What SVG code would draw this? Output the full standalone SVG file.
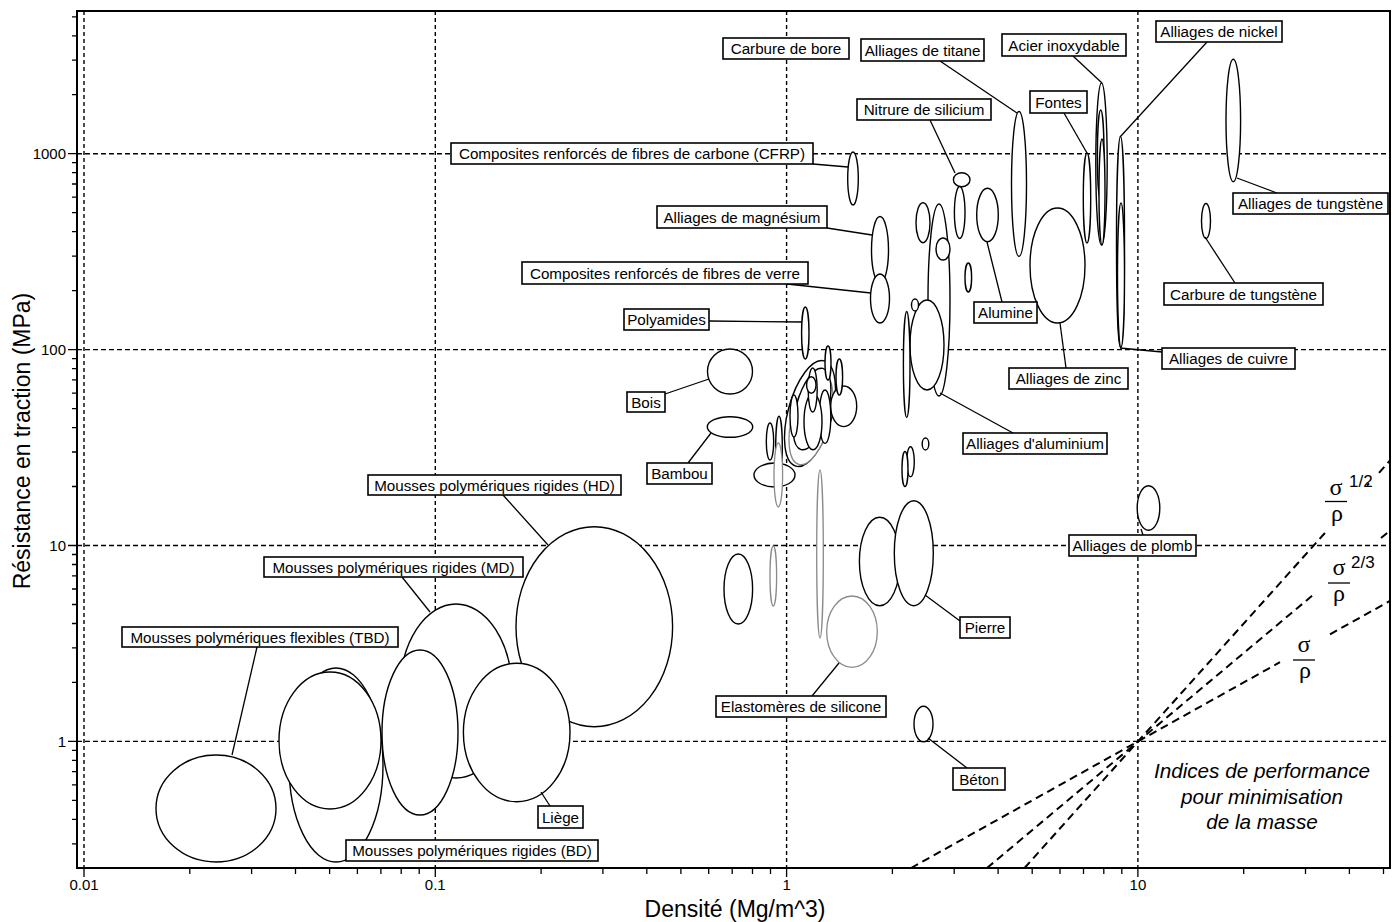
<svg xmlns="http://www.w3.org/2000/svg" width="1398" height="922" viewBox="0 0 1398 922">
<style>
.bg{fill:#fff}
.gh{stroke:#000;stroke-width:1.4;stroke-dasharray:5 3;fill:none}
.gv{stroke:#000;stroke-width:1.4;stroke-dasharray:4 3;fill:none}
.ax{stroke:#000;stroke-width:2;fill:none}
.tk{stroke:#000;stroke-width:1.3;fill:none}
.e{fill:#fff;stroke:#000;stroke-width:1.4}
.eg{fill:#fff;stroke:#8a8a8a;stroke-width:1.3}
.ld{stroke:#000;stroke-width:1.3;fill:none}
.perf{stroke:#000;stroke-width:2;stroke-dasharray:8 5;fill:none}
.lbl rect{fill:#fff;stroke:#000;stroke-width:1.6}
.lbl text{font-family:"Liberation Sans",Arial,sans-serif;font-size:15.2px;text-anchor:middle;fill:#000}
.tl{font-family:"Liberation Sans",Arial,sans-serif;font-size:15px;fill:#000}
.title{font-family:"Liberation Sans",Arial,sans-serif;font-size:23px;fill:#000;text-anchor:middle}
.gr{font-family:"Liberation Serif","Times New Roman",serif;font-size:24px;fill:#000;text-anchor:middle}
.sup{font-family:"Liberation Sans",Arial,sans-serif;font-size:17px;fill:#000}
.it{font-family:"Liberation Sans",Arial,sans-serif;font-size:20.7px;font-style:italic;text-anchor:middle;fill:#000}
</style>
<rect class="bg" x="0" y="0" width="1398" height="922"/>

<g id="grid">
<path class="gh" d="M77 153.7H1390M77 349.6H1390M77 545.5H1390M77 741.4H1390"/>
<path class="gv" d="M84 11V868M435.3 11V868M786.6 11V868M1137.9 11V868"/>
</g>

<g id="axes">
<rect class="ax" x="77" y="11" width="1313" height="857"/>
<path class="tk" d="M68 153.7H77M68 349.6H77M68 545.5H77M68 741.4H77
M72 16.8H77M72 35.8H77M72 60.2H77M72 94.7H77
M72 162.7H77M72 172.7H77M72 184H77M72 197.2H77M72 212.7H77M72 231.7H77M72 256.1H77M72 290.6H77
M72 358.6H77M72 368.6H77M72 379.9H77M72 393.1H77M72 408.6H77M72 427.6H77M72 452H77M72 486.5H77
M72 554.5H77M72 564.5H77M72 575.8H77M72 589H77M72 604.5H77M72 623.5H77M72 647.9H77M72 682.4H77
M72 750.4H77M72 760.4H77M72 771.7H77M72 784.9H77M72 800.4H77M72 819.4H77M72 843.8H77"/>
<path class="tk" d="M84 868V877M435.3 868V877M786.6 868V877M1137.9 868V877
M189.8 868V874M251.6 868V874M295.5 868V874M329.6 868V874M357.4 868V874M380.9 868V874M401.2 868V874M419.2 868V874
M541.1 868V874M602.9 868V874M646.8 868V874M680.9 868V874M708.7 868V874M732.2 868V874M752.5 868V874M770.5 868V874
M892.4 868V874M954.2 868V874M998.1 868V874M1032.2 868V874M1060 868V874M1083.5 868V874M1103.8 868V874M1121.8 868V874
M1243.7 868V874M1305.5 868V874M1349.4 868V874M1383.5 868V874"/>
<text class="tl" x="66" y="159" text-anchor="end">1000</text>
<text class="tl" x="66" y="355" text-anchor="end">100</text>
<text class="tl" x="66" y="551" text-anchor="end">10</text>
<text class="tl" x="66" y="747" text-anchor="end">1</text>
<text class="tl" x="84" y="890" text-anchor="middle">0.01</text>
<text class="tl" x="435.3" y="890" text-anchor="middle">0.1</text>
<text class="tl" x="786.6" y="890" text-anchor="middle">1</text>
<text class="tl" x="1137.9" y="890" text-anchor="middle">10</text>
<text class="title" x="735" y="917">Densité (Mg/m^3)</text>
<text class="title" transform="translate(30 441) rotate(-90)">Résistance en traction (MPa)</text>
</g>

<g id="performance-lines">
<path class="perf" d="M911 868L1280 662.2M1330 634.3L1390 600.9"/>
<path class="perf" d="M987 868L1313 595M1381 538.1L1390 530.6"/>
<path class="perf" d="M1024.5 868L1325 532.9M1379 472.8L1390 460.4"/>
<path class="tk" d="M1367 485.5L1369 483.3" style="stroke-width:2"/>
<g id="idx-half">
<text class="gr" x="1336" y="494.5">σ</text>
<path class="tk" d="M1325 501.5H1347"/>
<text class="gr" x="1337" y="521.4">ρ</text>
<text class="sup" x="1349" y="487">1/2</text>
</g>
<g id="idx-twothirds">
<text class="gr" x="1339" y="575">σ</text>
<path class="tk" d="M1328 583H1350"/>
<text class="gr" x="1339" y="601.4">ρ</text>
<text class="sup" x="1351" y="568">2/3</text>
</g>
<g id="idx-one">
<text class="gr" x="1304" y="652">σ</text>
<path class="tk" d="M1293 660H1315"/>
<text class="gr" x="1305" y="678.4">ρ</text>
</g>
<g id="idx-caption">
<text class="it" x="1262" y="778">Indices de performance</text>
<text class="it" x="1262" y="804">pour minimisation</text>
<text class="it" x="1262" y="829">de la masse</text>
</g>
</g>

<g id="ellipses">
<g id="foam-hd"><ellipse class="e" cx="594.3" cy="626.7" rx="78.3" ry="100"/></g>
<g id="foam-md"><ellipse class="e" cx="456" cy="691" rx="56" ry="87"/></g>
<g id="foam-tbd"><ellipse class="e" cx="216" cy="808.5" rx="60" ry="53.5"/></g>
<g id="foam-bd"><ellipse class="e" cx="336" cy="765" rx="47" ry="97"/></g>
<g id="foam-a"><ellipse class="e" cx="330" cy="740.5" rx="51" ry="68.5"/></g>
<g id="foam-b"><ellipse class="e" cx="420" cy="732.5" rx="38" ry="82.5"/></g>
<g id="liege"><ellipse class="e" cx="516.7" cy="732.5" rx="53.3" ry="69.2"/></g>

<g id="bois"><ellipse class="e" cx="730" cy="371.5" rx="22.5" ry="22.5"/></g>
<g id="bambou"><ellipse class="e" cx="730" cy="427" rx="22.7" ry="10.3"/></g>
<g id="polyamides"><ellipse class="e" cx="805.3" cy="333" rx="3.7" ry="26"/></g>
<g id="cfrp"><ellipse class="e" cx="853" cy="178.5" rx="5.3" ry="26.5"/></g>
<g id="magnesium"><ellipse class="e" cx="880" cy="250" rx="8.5" ry="33.5"/></g>
<g id="gfrp"><ellipse class="e" cx="880" cy="298.5" rx="9.5" ry="24.5"/></g>

<g id="polymer-cluster">
<ellipse class="e" cx="810" cy="413.5" rx="22" ry="54.5" transform="rotate(15 810 413.5)"/>
<ellipse class="eg" cx="811" cy="419" rx="19" ry="47" transform="rotate(15 811 419)"/>
<ellipse class="e" cx="812" cy="409" rx="16" ry="42" transform="rotate(15 812 409)"/>
<ellipse class="e" cx="843.7" cy="406.3" rx="13" ry="20.3"/>
<ellipse class="e" cx="828" cy="363" rx="3" ry="17"/>
<ellipse class="e" cx="839.3" cy="377" rx="3.3" ry="18"/>
<ellipse class="e" cx="825" cy="416.7" rx="5.8" ry="26.7"/>
<ellipse class="e" cx="813" cy="421.7" rx="9" ry="28"/>
<ellipse class="e" cx="812.7" cy="390" rx="4.5" ry="22"/>
<ellipse class="e" cx="811.3" cy="385" rx="4.7" ry="8.3"/>
<ellipse class="e" cx="794" cy="416" rx="4" ry="21"/>
<ellipse class="e" cx="774.5" cy="475" rx="20.5" ry="12"/>
<ellipse class="e" cx="770" cy="441.5" rx="3.7" ry="18.5"/>
<ellipse class="e" cx="779" cy="448" rx="3.3" ry="31.7"/>
<ellipse class="eg" cx="778.3" cy="475" rx="4.3" ry="32"/>
</g>

<g id="nitrure"><ellipse class="e" cx="961.7" cy="179.7" rx="8.3" ry="7"/></g>
<g id="ceramic-a"><ellipse class="e" cx="959.7" cy="212.5" rx="5.3" ry="26"/></g>
<g id="ceramic-b"><ellipse class="e" cx="923" cy="222.7" rx="7" ry="20"/></g>
<g id="ceramic-c"><ellipse class="e" cx="939" cy="300" rx="11" ry="96"/></g>
<g id="ceramic-d"><ellipse class="e" cx="943" cy="249" rx="7" ry="11"/></g>
<g id="alumine"><ellipse class="e" cx="987.5" cy="215" rx="10.8" ry="26.7"/></g>
<g id="ceramic-e"><ellipse class="e" cx="968.3" cy="277.5" rx="3.3" ry="14.5"/></g>
<g id="aluminium">
<ellipse class="e" cx="927" cy="345" rx="17" ry="45"/>
<ellipse class="e" cx="906.7" cy="364.5" rx="3.3" ry="53"/>
<ellipse class="e" cx="915" cy="305" rx="3.5" ry="6"/>
</g>
<g id="titane"><ellipse class="e" cx="1019" cy="184" rx="7.5" ry="72.5"/></g>
<g id="zinc"><ellipse class="e" cx="1057.5" cy="265.5" rx="27.5" ry="57.5"/></g>
<g id="fontes"><ellipse class="e" cx="1087" cy="198" rx="3.7" ry="45"/></g>
<g id="acier">
<ellipse class="e" cx="1101.5" cy="164" rx="5.7" ry="81"/>
<ellipse class="e" cx="1100.7" cy="155" rx="3.3" ry="45"/>
<ellipse class="e" cx="1102" cy="192" rx="3" ry="53"/>
</g>
<g id="nickel"><ellipse class="e" cx="1120.5" cy="242" rx="4" ry="105.5"/></g>
<g id="cuivre"><ellipse class="e" cx="1121" cy="275" rx="3.5" ry="72"/></g>
<g id="tungstene"><ellipse class="e" cx="1233.3" cy="120.5" rx="7.3" ry="61.2"/></g>
<g id="carbure-tungstene"><ellipse class="e" cx="1206" cy="221" rx="4.5" ry="17.5"/></g>
<g id="plomb"><ellipse class="e" cx="1148.5" cy="508" rx="11.3" ry="22.3"/></g>

<g id="misc-a"><ellipse class="e" cx="925.5" cy="444" rx="3.3" ry="6"/></g>
<g id="misc-b"><ellipse class="e" cx="910.5" cy="461.7" rx="3.8" ry="15"/><ellipse class="e" cx="905" cy="469" rx="3" ry="17.5"/></g>
<g id="pierre"><ellipse class="e" cx="879.7" cy="561.5" rx="20.3" ry="44.2"/><ellipse class="e" cx="913.8" cy="553.2" rx="19.5" ry="52.5"/></g>
<g id="misc-c"><ellipse class="e" cx="738.3" cy="589" rx="14.3" ry="35"/></g>
<g id="misc-d"><ellipse class="eg" cx="773.3" cy="576" rx="3.3" ry="30"/></g>
<g id="misc-e"><ellipse class="eg" cx="820" cy="554" rx="3.3" ry="84"/></g>
<g id="silicone"><ellipse class="eg" cx="852" cy="631.7" rx="25.3" ry="35.7"/></g>
<g id="beton"><ellipse class="e" cx="923.5" cy="724" rx="9.5" ry="17.8"/></g>
</g>

<g id="connectors">
<path class="ld" d="M940 61L1017 113"/>
<path class="ld" d="M1073 56L1102 83"/>
<path class="ld" d="M1207 42L1120 137"/>
<path class="ld" d="M930 120L955 173"/>
<path class="ld" d="M1064 113L1087 153"/>
<path class="ld" d="M813 164L848 167"/>
<path class="ld" d="M827 228L872 235"/>
<path class="ld" d="M787 284L871 293"/>
<path class="ld" d="M709 321L802 322"/>
<path class="ld" d="M665 394L709 379"/>
<path class="ld" d="M688 463L711 433"/>
<path class="ld" d="M1002 302L987 242"/>
<path class="ld" d="M1066 368L1060 323"/>
<path class="ld" d="M1013 433L940 393"/>
<path class="ld" d="M1235 283L1205 237"/>
<path class="ld" d="M1162 352L1120 348"/>
<path class="ld" d="M1277 193L1237 178"/>
<path class="ld" d="M1143 535L1141 529"/>
<path class="ld" d="M503 495L548 545"/>
<path class="ld" d="M402 577L430 612"/>
<path class="ld" d="M257 647L232 755"/>
<path class="ld" d="M960 621L925 595"/>
<path class="ld" d="M812 696L839 663"/>
<path class="ld" d="M967 768L928 738"/>
<path class="ld" d="M550 806L541 792"/>
</g>

<g id="labels">
<g class="lbl" id="lbl-carbure-bore"><rect x="723" y="38" width="126" height="21"/><text x="786" y="54">Carbure de bore</text></g>
<g class="lbl" id="lbl-titane"><rect x="861" y="39" width="123" height="22"/><text x="922.5" y="55.5">Alliages de titane</text></g>
<g class="lbl" id="lbl-acier"><rect x="1002" y="34" width="124" height="22"/><text x="1064" y="50.5">Acier inoxydable</text></g>
<g class="lbl" id="lbl-nickel"><rect x="1156" y="21" width="126" height="21"/><text x="1219" y="37">Alliages de nickel</text></g>
<g class="lbl" id="lbl-nitrure"><rect x="857" y="99" width="134" height="21"/><text x="924" y="115">Nitrure de silicium</text></g>
<g class="lbl" id="lbl-fontes"><rect x="1030" y="91" width="57" height="22"/><text x="1058.5" y="107.5">Fontes</text></g>
<g class="lbl" id="lbl-cfrp"><rect x="451" y="143" width="362" height="21"/><text x="632" y="159">Composites renforcés de fibres de carbone (CFRP)</text></g>
<g class="lbl" id="lbl-magnesium"><rect x="657" y="206" width="170" height="22"/><text x="742" y="222.5">Alliages de magnésium</text></g>
<g class="lbl" id="lbl-gfrp"><rect x="522" y="262" width="286" height="22"/><text x="665" y="278.5">Composites renforcés de fibres de verre</text></g>
<g class="lbl" id="lbl-polyamides"><rect x="624" y="309" width="85" height="21"/><text x="666.5" y="325">Polyamides</text></g>
<g class="lbl" id="lbl-bois"><rect x="627" y="392" width="38" height="20"/><text x="646" y="407.5">Bois</text></g>
<g class="lbl" id="lbl-bambou"><rect x="647" y="463" width="65" height="21"/><text x="679.5" y="479">Bambou</text></g>
<g class="lbl" id="lbl-alumine"><rect x="974" y="302" width="63" height="21"/><text x="1005.5" y="318">Alumine</text></g>
<g class="lbl" id="lbl-zinc"><rect x="1009" y="368" width="119" height="21"/><text x="1068.5" y="384">Alliages de zinc</text></g>
<g class="lbl" id="lbl-aluminium"><rect x="963" y="433" width="144" height="21"/><text x="1035" y="449">Alliages d'aluminium</text></g>
<g class="lbl" id="lbl-carbure-tungstene"><rect x="1164" y="283" width="159" height="22"/><text x="1243.5" y="299.5">Carbure de tungstène</text></g>
<g class="lbl" id="lbl-cuivre"><rect x="1162" y="348" width="133" height="21"/><text x="1228.5" y="364">Alliages de cuivre</text></g>
<g class="lbl" id="lbl-tungstene"><rect x="1233" y="193" width="155" height="21"/><text x="1310.5" y="209">Alliages de tungstène</text></g>
<g class="lbl" id="lbl-plomb"><rect x="1069" y="535" width="127" height="21"/><text x="1132.5" y="551">Alliages de plomb</text></g>
<g class="lbl" id="lbl-hd"><rect x="368" y="475" width="253" height="20"/><text x="494.5" y="490.5">Mousses polymériques rigides (HD)</text></g>
<g class="lbl" id="lbl-md"><rect x="264" y="557" width="259" height="20"/><text x="393.5" y="572.5">Mousses polymériques rigides (MD)</text></g>
<g class="lbl" id="lbl-tbd"><rect x="122" y="627" width="276" height="20"/><text x="260" y="642.5">Mousses polymériques flexibles (TBD)</text></g>
<g class="lbl" id="lbl-pierre"><rect x="960" y="617" width="50" height="21"/><text x="985" y="633">Pierre</text></g>
<g class="lbl" id="lbl-silicone"><rect x="716" y="696" width="170" height="21"/><text x="801" y="712">Elastomères de silicone</text></g>
<g class="lbl" id="lbl-beton"><rect x="953" y="768" width="52" height="22"/><text x="979" y="784.5">Béton</text></g>
<g class="lbl" id="lbl-liege"><rect x="538" y="806" width="45" height="22"/><text x="560.5" y="822.5">Liège</text></g>
<g class="lbl" id="lbl-bd"><rect x="346" y="840" width="252" height="21"/><text x="472" y="856">Mousses polymériques rigides (BD)</text></g>
</g>
</svg>
